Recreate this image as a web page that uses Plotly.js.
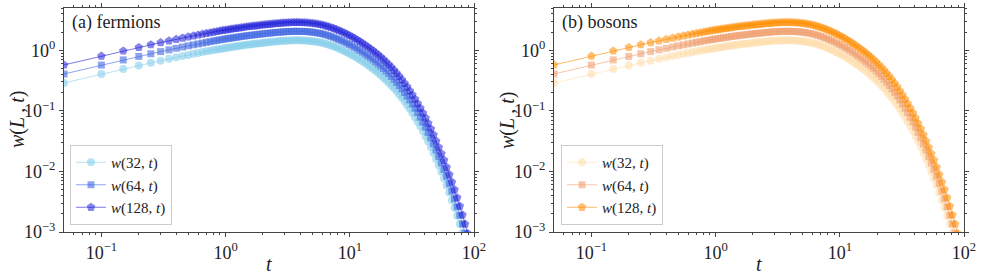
<!DOCTYPE html>
<html><head><meta charset="utf-8">
<script src="https://cdn.plot.ly/plotly-3.0.1.min.js"></script>
<style>html,body{margin:0;padding:0;background:#fff;}#chart{width:981px;height:278px;}</style>
</head><body><div id="chart"></div>
<script>
// time grid
const t = [0.05,0.1,0.15,0.2,0.25,0.3,0.35,0.4,0.45,0.5,0.55,0.6,0.65,0.7,0.75,0.8,0.85,0.9,0.95,1.0,
1.05,1.103,1.158,1.216,1.276,1.340,1.407,1.478,1.551,1.629,1.710,1.796,1.886,1.980,2.079,2.183,2.292,2.407,2.527,2.653,2.786,2.925,3.072,3.225,3.386,3.556,3.734,3.920,4.116,4.322,4.538,4.765,5.003,5.253,5.516,5.792,6.081,6.386,6.705,7.040,7.392,7.762,8.150,8.557,8.985,9.434,9.906,10.40,10.92,11.47,12.04,12.64,13.28,13.94,14.64,15.37,16.14,16.94,17.79,18.68,19.61,20.59,21.62,22.71,23.84,25.03,26.28,27.60,28.98,30.43,31.95,33.55,35.22,36.98,38.83,40.77,42.81,44.95,47.20,49.56,52.04,54.64,57.37,60.24,63.25,66.42,69.74,73.23,76.89,80.73,84.77,89.01];

// w(32,t)
const w32 = [0.289,0.405,0.492,0.563,0.623,0.676,0.723,0.766,0.805,0.841,0.874,0.905,0.934,0.961,0.987,1.011,1.034,1.056,1.076,1.095,
1.112,1.129,1.146,1.163,1.181,1.199,1.217,1.236,1.250,1.265,1.280,1.295,1.311,1.327,1.341,1.355,1.369,1.384,1.398,1.410,1.422,1.434,1.443,1.449,1.456,1.461,1.462,1.461,1.457,1.451,1.443,1.429,1.415,1.395,1.373,1.346,1.316,1.283,1.245,1.205,1.163,1.119,1.072,1.026,0.980,0.933,0.887,0.841,0.795,0.749,0.704,0.659,0.616,0.573,0.534,0.496,0.459,0.423,0.388,0.354,0.323,0.292,0.263,0.236,0.210,0.186,0.164,0.144,0.125,0.108,0.0924,0.0786,0.0663,0.0557,0.0464,0.0383,0.0313,0.0253,0.0203,0.0160,0.0126,0.00988,0.00768,0.00590,0.00447,0.00336,0.00251,0.00185,0.00135,0.00096,0.00068,0.00048];

// w(64,t)
const w64 = [0.407,0.571,0.694,0.794,0.878,0.953,1.019,1.080,1.135,1.186,1.232,1.276,1.317,1.355,1.392,1.426,1.458,1.489,1.517,1.544,
1.568,1.592,1.616,1.640,1.665,1.691,1.716,1.743,1.763,1.784,1.805,1.826,1.849,1.870,1.891,1.911,1.930,1.951,1.971,1.987,2.004,2.022,2.035,2.043,2.053,2.060,2.061,2.059,2.054,2.046,2.035,2.015,1.995,1.967,1.936,1.898,1.856,1.809,1.755,1.699,1.640,1.578,1.512,1.447,1.381,1.316,1.250,1.185,1.120,1.056,0.992,0.930,0.868,0.808,0.753,0.699,0.646,0.596,0.547,0.500,0.455,0.412,0.371,0.332,0.296,0.263,0.231,0.202,0.176,0.152,0.130,0.111,0.0935,0.0786,0.0654,0.0540,0.0441,0.0357,0.0286,0.0226,0.0177,0.0139,0.0108,0.00832,0.00630,0.00474,0.00354,0.00261,0.00190,0.00136,0.00096,0.00067];

// w(128,t)
const w128 = [0.574,0.804,0.977,1.118,1.237,1.342,1.435,1.521,1.598,1.669,1.735,1.796,1.854,1.908,1.959,2.007,2.052,2.096,2.136,2.174,
2.207,2.241,2.275,2.309,2.344,2.380,2.416,2.453,2.481,2.511,2.541,2.571,2.602,2.633,2.662,2.690,2.717,2.747,2.775,2.798,2.822,2.846,2.864,2.876,2.890,2.900,2.902,2.899,2.892,2.880,2.864,2.837,2.809,2.769,2.725,2.672,2.612,2.547,2.471,2.392,2.309,2.221,2.129,2.037,1.945,1.853,1.760,1.669,1.577,1.487,1.397,1.309,1.222,1.138,1.060,0.984,0.910,0.839,0.770,0.703,0.640,0.580,0.522,0.468,0.417,0.370,0.326,0.285,0.248,0.214,0.183,0.156,0.1316,0.1106,0.0921,0.0760,0.0621,0.0503,0.0402,0.0318,0.0249,0.0196,0.0153,0.0117,0.00887,0.00667,0.00499,0.00368,0.00267,0.00191,0.00135,0.00094];

const seriesNames = ['<i>w</i>(32, <i>t</i>)','<i>w</i>(64, <i>t</i>)','<i>w</i>(128, <i>t</i>)'];
const seriesData = [w32, w64, w128];
const symbols = ['circle','square','pentagon'];
const sizes = [8,7,9];
const fermionColors = ['135,206,235','65,105,225','32,32,216'];
const bosonColors = ['255,222,173','240,160,112','255,140,0'];
const markerAlpha = [0.6,0.6,0.55];
const panelLabels = ['(a) fermions','(b) bosons'];

const xTickVals = [0.1,1,10,100];
const xTickText = ['10<sup>−1</sup>','10<sup>0</sup>','10<sup>1</sup>','10<sup>2</sup>'];
const yTickVals = [0.001,0.01,0.1,1];
const yTickText = ['10<sup>−3</sup>','10<sup>−2</sup>','10<sup>−1</sup>','10<sup>0</sup>'];
const xMinor = [0.06,0.07,0.08,0.09,0.2,0.3,0.4,0.5,0.6,0.7,0.8,0.9,2,3,4,5,6,7,8,9,20,30,40,50,60,70,80,90];
const yMinor = [0.002,0.003,0.004,0.005,0.006,0.007,0.008,0.009,0.02,0.03,0.04,0.05,0.06,0.07,0.08,0.09,0.2,0.3,0.4,0.5,0.6,0.7,0.8,0.9,2,3,4,5];

const FONT = '"Liberation Serif", serif';

const traces = [];
[fermionColors, bosonColors].forEach((cols, p) => {
  seriesData.forEach((w, i) => {
    traces.push({
      x: t, y: w, type: 'scatter', mode: 'lines+markers',
      name: seriesNames[i],
      xaxis: p === 0 ? 'x' : 'x2', yaxis: p === 0 ? 'y' : 'y2',
      legend: p === 0 ? 'legend' : 'legend2',
      line: {color: 'rgba(' + cols[i] + ',0.6)', width: 1},
      marker: {symbol: symbols[i], size: sizes[i], color: 'rgba(' + cols[i] + ',' + markerAlpha[i] + ')', line: {width: 0}},
      hoverinfo: 'skip'
    });
  });
});

const axCommon = {
  showgrid: false, zeroline: false, showline: true, linecolor: '#444', linewidth: 1,
  mirror: 'ticks', ticks: 'outside', ticklen: 4, tickcolor: '#444', tickwidth: 1,
  tickfont: {family: FONT, size: 18, color: '#222'}
};
function xax(domain) {
  return Object.assign({}, axCommon, {
    type: 'log', domain: domain, range: [Math.log10(0.05), 2],
    tickmode: 'array', tickvals: xTickVals, ticktext: xTickText,
    minor: {tickmode: 'array', tickvals: xMinor, ticks: 'outside', ticklen: 2, tickcolor: '#444'}
  });
}
function yax() {
  return Object.assign({}, axCommon, {
    type: 'log', domain: [0, 1], range: [-3, Math.log10(5)],
    tickmode: 'array', tickvals: yTickVals, ticktext: yTickText,
    minor: {tickmode: 'array', tickvals: yMinor, ticks: 'outside', ticklen: 2, tickcolor: '#444'}
  });
}
const xd1 = [64/981, 474/981], xd2 = [554/981, 964/981];
const xa1 = xax(xd1); xa1.anchor = 'y';
const xa2 = xax(xd2); xa2.anchor = 'y2';
const ya1 = yax(); ya1.anchor = 'x';
const ya2 = yax(); ya2.anchor = 'x2';

const legendCommon = {
  xanchor: 'left', yanchor: 'bottom', bordercolor: '#cccccc', borderwidth: 1,
  bgcolor: 'rgba(255,255,255,0.85)', font: {family: FONT, size: 15, color: '#222'}, tracegroupgap: 0, itemwidth: 30
};

const ann = [];
[xd1, xd2].forEach((d, p) => {
  ann.push({xref: 'paper', yref: 'paper', x: d[0] + 6/981, y: (232-22)/224, xanchor: 'left', yanchor: 'middle',
    text: panelLabels[p], showarrow: false, font: {family: FONT, size: 18, color: '#222'}});
  ann.push({xref: 'paper', yref: 'paper', x: (d[0] + d[1]) / 2, y: (232-264)/224, xanchor: 'center', yanchor: 'middle',
    text: '<i>t</i>', showarrow: false, font: {family: FONT, size: 20, color: '#222'}});
  ann.push({xref: 'paper', yref: 'paper', x: d[0] - 47/981, y: 0.5, xanchor: 'center', yanchor: 'middle', textangle: -90,
    text: '<i>w</i>(<i>L</i>\u2009, <i>t</i>)', showarrow: false, font: {family: FONT, size: 20, color: '#222'}});
});

const layout = {
  width: 981, height: 278, margin: {l: 0, r: 0, t: 8, b: 46},
  paper_bgcolor: '#ffffff', plot_bgcolor: '#ffffff',
  font: {family: FONT, size: 15, color: '#222'},
  showlegend: true,
  xaxis: xa1, yaxis: ya1, xaxis2: xa2, yaxis2: ya2,
  legend: Object.assign({}, legendCommon, {x: 70/981, y: 7/224}),
  legend2: Object.assign({}, legendCommon, {x: 561/981, y: 7/224}),
  annotations: ann
};

Plotly.newPlot('chart', traces, layout, {staticPlot: true, displayModeBar: false});
</script>
</body></html>
